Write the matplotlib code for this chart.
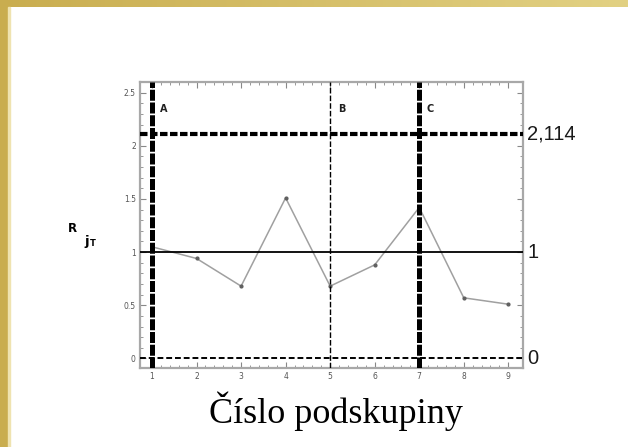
import matplotlib
matplotlib.use("Agg")
import matplotlib.pyplot as plt
from matplotlib.patches import Rectangle
from matplotlib.colors import LinearSegmentedColormap
import numpy as np

# subgroup numbers and R_jT values
subgroups = [1, 2, 3, 4, 5, 6, 7, 8, 9]
r_jt = [1.05, 0.94, 0.68, 1.51, 0.68, 0.88, 1.42, 0.57, 0.51]

ucl = 2.114
center = 1
lcl = 0
phase_x = [1, 5, 7]
phase_labels = ["A", "B", "C"]
phase_widths = [3.6, 1.0, 3.6]

fig = plt.figure(figsize=(6.28, 4.47), dpi=100)
fig.patch.set_facecolor("white")

# gold frame on top and left edge
grad = LinearSegmentedColormap.from_list("gold", ["#c9ad4f", "#e2d183"])
top_ax = fig.add_axes([0, 1 - 7 / 447, 1, 7 / 447])
top_ax.imshow(np.linspace(0, 1, 256)[None, :], aspect="auto", cmap=grad)
top_ax.axis("off")
fig.add_artist(Rectangle((0, 0), 8 / 628, 1, transform=fig.transFigure,
                         color="#c9ad4f", zorder=5))
fig.add_artist(Rectangle((8 / 628, 0), 1.5 / 628, 1 - 7 / 447, transform=fig.transFigure,
                         color="#efe3b0", zorder=5))

ax = fig.add_axes([140 / 628, 1 - 368 / 447, 383 / 628, 286 / 447])
ax.plot(subgroups, r_jt, color="#a0a0a0", lw=1.1, marker="o", ms=2,
        mfc="#606060", mec="#606060", zorder=2)

ax.axhline(ucl, color="black", lw=3.0, ls=(0, (1.8, 0.6)), zorder=3)
ax.axhline(center, color="black", lw=1.3, zorder=3)
ax.axhline(lcl, color="black", lw=1.4, ls=(0, (3, 1.5)), zorder=3)
for xv, lab, w in zip(phase_x, phase_labels, phase_widths):
    style = (0, (2.2, 0.35)) if w > 2 else (0, (4, 1.5))
    ax.axvline(xv, color="black", lw=w, ls=style, zorder=3)
    ax.text(xv + 0.17, 2.35, lab, fontsize=7, fontweight="bold", ha="left",
            va="center", color="#202020")

ax.set_xlim(0.73, 9.33)
ax.set_ylim(-0.09, 2.6)
ax.set_xticks(subgroups)
ax.set_xticks(np.arange(1, 9.01, 0.2), minor=True)
ax.set_yticks([0, 0.5, 1, 1.5, 2, 2.5])
ax.set_yticklabels(["0", "0.5", "1", "1.5", "2", "2.5"])
ax.set_yticks(np.arange(0, 2.61, 0.1), minor=True)
ax.tick_params(which="both", direction="in", top=True, right=True,
               colors="#888888", labelsize=5.5, labelcolor="#555555")
ax.tick_params(which="major", length=4, width=0.8, pad=3)
ax.tick_params(which="minor", length=2, width=0.6)
for s in ax.spines.values():
    s.set_color("#a8a8a8")
    s.set_linewidth(1.6)

# limit labels on the right
for yv, txt in [(ucl, "2,114"), (center, "1"), (lcl, "0")]:
    ax.text(9.42, yv, txt, fontsize=14.5, ha="left", va="center",
            family="Liberation Sans", color="#1a1a1a")

# axis titles
fig.text(72 / 628, 1 - 228 / 447, "R", fontsize=8.5, fontweight="bold", ha="center", va="center")
fig.text(87 / 628, 1 - 241 / 447, "j", fontsize=9.5, fontweight="bold", ha="center", va="center")
fig.text(93 / 628, 1 - 243 / 447, "T", fontsize=6, fontweight="bold", ha="center", va="center")
fig.text(336 / 628, 1 - 411 / 447, "Číslo podskupiny", fontsize=26,
         family="Liberation Serif", ha="center", va="center")

fig.savefig("out.png", dpi=100)
